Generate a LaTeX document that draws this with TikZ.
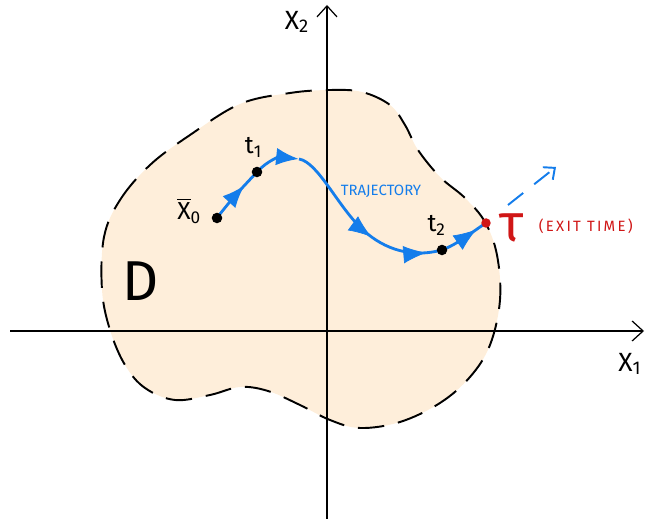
\documentclass[tikz,border=0pt]{standalone}
\usepackage{amsmath}
\usepackage{fontspec}
\setmainfont{Fira Sans}
\usetikzlibrary{arrows.meta,positioning,decorations.markings}
\definecolor{regionfill}{RGB}{254,238,218}
\definecolor{trajblue}{RGB}{20,125,235}
\definecolor{exitred}{RGB}{208,22,22}
\tikzset{
  axis/.style={line width=0.7pt, -{Straight Barb[length=2.2mm, width=4mm]}},
  region/.style={fill=regionfill, draw=black, line width=1.1pt, dash pattern=on 15pt off 8pt},
  traj/.style={trajblue, line width=1.6pt},
  dot/.style={circle, fill=black, inner sep=0pt, minimum size=6pt},
  reddot/.style={circle, fill=exitred, inner sep=0pt, minimum size=5.4pt},
  axlabel/.style={font=\fontsize{15}{16}\selectfont},
  ptlabel/.style={font=\fontsize{14}{15}\selectfont},
  escape/.style={trajblue, line width=1.1pt, dash pattern=on 11pt off 8pt, -{Straight Barb[length=1.8mm, width=3.2mm]}},
}

\begin{document}
\begin{tikzpicture}[x=0.02cm, y=-0.02cm, node distance=0.15cm]
\useasboundingbox (0,0) rectangle (646,519);

% region D
\draw[region] plot[smooth cycle, tension=0.6] coordinates {
  (104,237) (120,200) (150,165) (190,135) (240,104) (290,93) (330,90)
  (362,92) (390,105) (405,125) (418,150) (440,177) (465,198) (485,222)
  (497,255) (500,300) (490,345) (470,377) (440,403) (400,422) (360,428)
  (330,420) (300,405) (268,391) (240,387) (210,395) (175,400) (145,388)
  (125,365) (110,330) (102,290)};

% axes
\coordinate (x1start) at (10,331);
\coordinate (x1end) at (644,331);
\coordinate (x2start) at (327,519);
\coordinate (x2end) at (327,5);
\draw[axis] (x1start) -- (x1end);
\draw[axis] (x2start) -- (x2end);
\node[axlabel] (x1lab) at (630,364) {X$_{\text{1}}$};
\node[axlabel] (x2lab) at (297,22) {X$_{\text{2}}$};

\node[font=\fontsize{32}{32}\selectfont] (dlab) at (141,281) {D};

% trajectory
\coordinate (p0) at (217,218);
\coordinate (p1) at (257,172);
\coordinate (peak) at (299,159);
\coordinate (p2) at (442,250);
\coordinate (p3) at (486,223);
\draw[traj] (peak) .. controls (318,162) and (338,207) .. (363,230)
       .. controls (385,250) and (412,258) .. (p2)
       .. controls (458,244) and (472,232) .. (p3);
\draw[traj, -{Latex[length=13pt, width=10pt]}, postaction={decorate}, decoration={markings,
    mark=at position 0.4 with {\arrow{Latex[length=13pt, width=10pt]}}}]
  (p0) .. controls (232,198) and (245,185) .. (p1)
       .. controls (268,160) and (280,157) .. (peak);
\path[postaction={decorate}, decoration={markings,
    mark=at position 0.46 with {\arrow[trajblue]{Latex[length=13pt, width=10pt]}},
    mark=at position 0.71 with {\arrow[trajblue]{Latex[length=13pt, width=10pt]}},
    mark=at position 0.95 with {\arrow[trajblue]{Latex[length=13pt, width=10pt]}}}]
  (peak) .. controls (318,162) and (338,207) .. (363,230)
       .. controls (385,250) and (412,258) .. (p2)
       .. controls (458,244) and (472,232) .. (p3);

\node[dot] (x0) at (p0) {};
\node[dot] (t1) at (p1) {};
\node[dot] (t2) at (p2) {};
\node[reddot] (tau) at (p3) {};

\node[ptlabel, left=0.08cm of x0, yshift=4pt] (x0lab) {$\overline{\text{X}}_{\text{0}}$};
\node[ptlabel, above=0.05cm of t1, xshift=-2pt] (t1lab) {t$_{\text{1}}$};
\node[ptlabel, above=0.05cm of t2, xshift=-3pt] (t2lab) {t$_{\text{2}}$};
\node[exitred, font=\fontsize{30}{30}\selectfont, right=0.05cm of tau, yshift=-3pt] (taulab) {τ};
\node[exitred, font=\fontsize{8.5}{9}\selectfont\addfontfeature{LetterSpace=15}, right=0.05cm of taulab, yshift=1pt] (exitlab) {(EXIT TIME)};
\node[trajblue, font=\fontsize{8.5}{9}\selectfont] (trajlab) at (381,191) {TRAJECTORY};

% escape direction
\coordinate (esc0) at (508,205);
\coordinate (esc1) at (556,167);
\draw[escape] (esc0) -- (esc1);

\end{tikzpicture}
\end{document}
